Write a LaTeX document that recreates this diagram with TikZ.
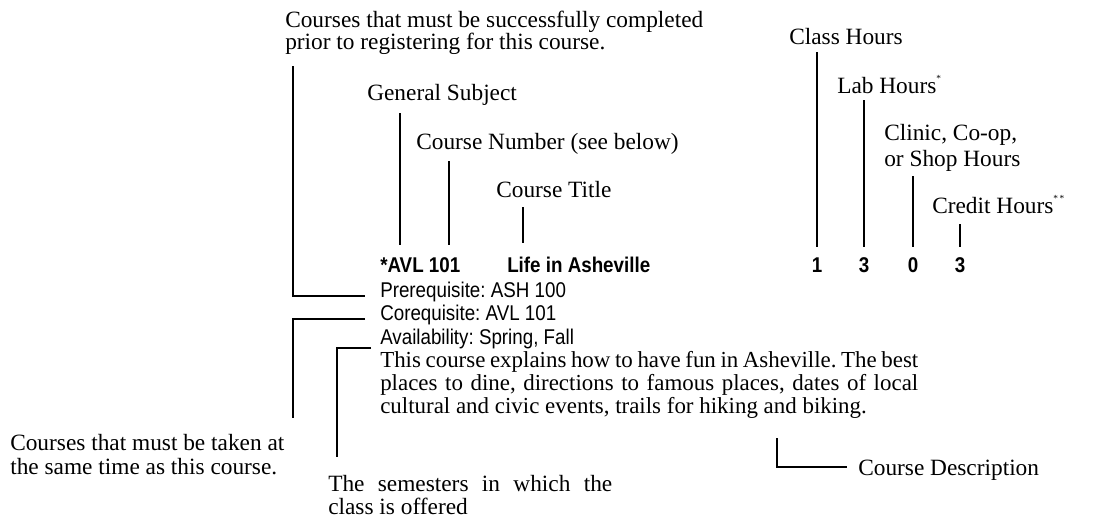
\documentclass[tikz,border=0pt]{standalone}
\usepackage{fontspec}
\setmainfont{Liberation Serif}
\newfontfamily\sansc[FakeStretch=0.88]{Liberation Sans}
\newcommand{\supast}[1]{\raisebox{1.1ex}{\fontsize{7}{7}\selectfont #1}}
\frenchspacing
\begin{document}
\begin{tikzpicture}[x=0.75pt,y=-0.75pt,
  lbl/.style={inner sep=0pt, anchor=base west, font=\fontsize{17.5}{21}\selectfont},
  desc/.style={inner sep=0pt, anchor=base west, font=\fontsize{17.2}{20}\selectfont},
  info/.style={inner sep=0pt, anchor=base west, font=\sansc\fontsize{16}{19}\selectfont},
  head/.style={inner sep=0pt, anchor=base west, font=\sansc\bfseries\fontsize{16}{19}\selectfont},
  num/.style={inner sep=0pt, anchor=base, font=\sansc\bfseries\fontsize{16}{19}\selectfont},
  lead/.style={line width=0.8pt},
  leadthick/.style={line width=1.6pt}]
\useasboundingbox (0,0) rectangle (1097,521);

% top-left caption
\node[lbl] (pre1) at (285,27) {Courses that must be successfully completed};
\node[lbl] (pre2) at (285,50) {prior to registering for this course.};
\node[lbl] (gs) at (367,100) {General Subject};
\node[lbl] (cn) at (416,149) {Course Number (see below)};
\node[lbl] (ct) at (496,197) {Course Title};

% hours captions
\node[lbl] (ch) at (789,45) {Class Hours};
\node[lbl] (lh) at (837,93) {Lab Hours\supast{*}};
\node[lbl] (cl1) at (884,140) {Clinic, Co-op,};
\node[lbl] (cl2) at (884,166) {or Shop Hours};
\node[lbl] (cr) at (932,213) {Credit Hours\supast{*\,*}};

% course line
\node[head] (avl) at (380,272) {*AVL 101};
\node[head] (life) at (507,272) {Life in Asheville};
\node[num] (n1) at (817,272) {1};
\node[num] (n2) at (864,272) {3};
\node[num] (n3) at (913,272) {0};
\node[num] (n4) at (960,272) {3};

\node[info] (prq) at (380,297) {Prerequisite: ASH 100};
\node[info] (crq) at (380,320) {Corequisite: AVL 101};
\node[info] (av) at (380,344) {Availability: Spring, Fall};

\node[desc] (d1) at (380,367) {\makebox[403.5pt][s]{This course explains how to have fun in Asheville. The best}};
\node[desc] (d2) at (380,390) {\makebox[403.5pt][s]{places to dine, directions to famous places, dates of local}};
\node[desc] (d3) at (380,413) {cultural and civic events, trails for hiking and biking.};

% bottom captions
\node[lbl] (co1) at (10,450) {Courses that must be taken at};
\node[lbl] (co2) at (10,474) {the same time as this course.};
\node[lbl] (se1) at (328,491) {\makebox[213pt][s]{The semesters in which the}};
\node[lbl] (se2) at (328,514) {class is offered};
\node[lbl] (cd) at (858,475) {Course Description};

% connector end points
\coordinate (preTop) at (293,66);
\coordinate (preCorner) at (293,296);
\coordinate (preEnd) at (365,296);
\coordinate (coEnd) at (365,319);
\coordinate (coCorner) at (293,319);
\coordinate (coBot) at (293,418);
\coordinate (avEnd) at (371,348);
\coordinate (avCorner) at (337,348);
\coordinate (avBot) at (337,457);
\coordinate (gsTop) at (400,113);
\coordinate (gsBot) at (400,245);
\coordinate (cnTop) at (449,161);
\coordinate (cnBot) at (449,245);
\coordinate (ctTop) at (523,207);
\coordinate (ctBot) at (523,243);
\coordinate (chTop) at (817,52);
\coordinate (chBot) at (817,247);
\coordinate (lhTop) at (864,100);
\coordinate (lhBot) at (864,247);
\coordinate (clTop) at (913,176);
\coordinate (clBot) at (913,247);
\coordinate (crTop) at (960,224);
\coordinate (crBot) at (960,247);
\coordinate (cdTop) at (777,438);
\coordinate (cdCorner) at (777,467);
\coordinate (cdEnd) at (847,467);

\draw[lead] (preTop) -- (preCorner) -- (preEnd);
\draw[lead] (coEnd) -- (coCorner) -- (coBot);
\draw[leadthick] (avEnd) -- (avCorner) -- (avBot);
\draw[lead] (gsTop) -- (gsBot);
\draw[lead] (cnTop) -- (cnBot);
\draw[lead] (ctTop) -- (ctBot);
\draw[lead] (chTop) -- (chBot);
\draw[lead] (lhTop) -- (lhBot);
\draw[lead] (clTop) -- (clBot);
\draw[lead] (crTop) -- (crBot);
\draw[lead] (cdTop) -- (cdCorner) -- (cdEnd);
\end{tikzpicture}
\end{document}
